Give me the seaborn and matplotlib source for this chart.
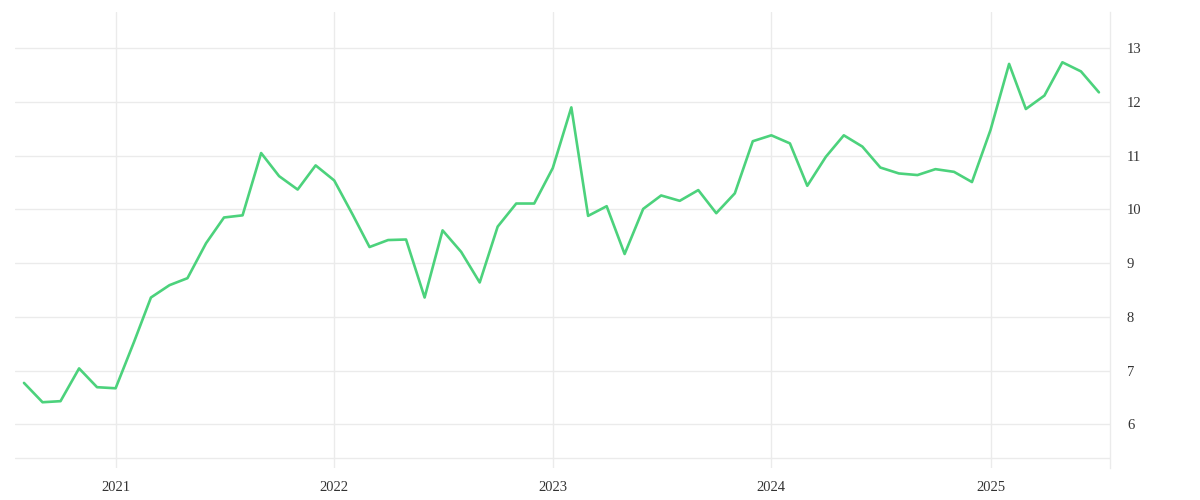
import pandas as pd
import seaborn as sns
import matplotlib.pyplot as plt
import matplotlib.dates as mdates

# monthly values, Aug 2020 .. Jul 2025
months = pd.date_range('2020-08-01', '2025-07-01', freq='MS')
values = [6.77, 6.41, 6.43, 7.04, 6.69,
          6.67, 7.54, 8.36, 8.59, 8.72, 9.37, 9.85, 9.89, 11.05, 10.62, 10.37, 10.82,
          10.54, 9.90, 9.30, 9.43, 9.44, 8.36, 9.61, 9.21, 8.64, 9.68, 10.11, 10.11,
          10.77, 11.90, 9.88, 10.06, 9.17, 10.01, 10.26, 10.16, 10.36, 9.93, 10.30, 11.27,
          11.38, 11.23, 10.44, 10.98, 11.38, 11.17, 10.78, 10.67, 10.64, 10.75, 10.70, 10.51,
          11.48, 12.71, 11.87, 12.12, 12.74, 12.57, 12.18]
yticks = [6, 7, 8, 9, 10, 11, 12, 13]

df = pd.DataFrame({'date': months, 'value': values})

sns.set_theme(style='white')
plt.rcParams['font.family'] = ['Liberation Serif', 'DejaVu Serif']

grid_col = '#ebebeb'
fig = plt.figure(figsize=(12, 5), dpi=100)
ax = fig.add_axes([15 / 1200, 1 - 468.3 / 500, (1110.3 - 15) / 1200, (468.3 - 12) / 500])

sns.lineplot(data=df, x='date', y='value', color='#4cd27c', linewidth=1.9, ax=ax)

ax.set_xlim(pd.Timestamp('2020-07-17'), pd.Timestamp('2025-07-20'))
ax.set_ylim(5.18, 13.676)
ax.axhline(5.366, color=grid_col, linewidth=1, zorder=0)

ax.set_yticks(yticks)
ax.xaxis.set_major_locator(mdates.YearLocator())
ax.xaxis.set_major_formatter(mdates.DateFormatter('%Y'))
ax.yaxis.tick_right()
ax.grid(True, color=grid_col, linewidth=1)
ax.set_axisbelow(True)
ax.tick_params(axis='both', length=0, labelsize=10.5, labelcolor='#333333')
ax.tick_params(axis='y', pad=12)
ax.tick_params(axis='x', pad=9)
ax.set_xlabel('')
ax.set_ylabel('')

for side in ['top', 'left', 'bottom']:
    ax.spines[side].set_visible(False)
ax.spines['right'].set_color(grid_col)
ax.spines['right'].set_linewidth(1)

fig.savefig('out.png', dpi=100)
